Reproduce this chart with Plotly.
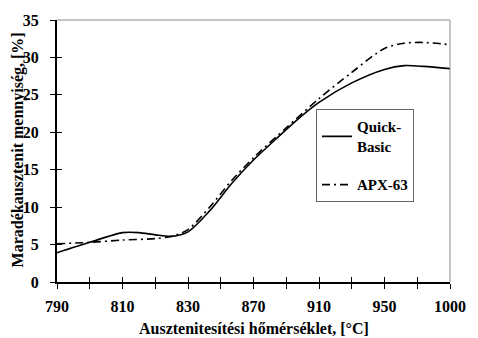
import plotly.graph_objects as go

# Austenitising temperatures shown as evenly spaced categories
temp_labels = ["790", "810", "830", "870", "910", "950", "1000"]
temp_pos = [0, 1, 2, 3, 4, 5, 6]
y_ticks = [0, 5, 10, 15, 20, 25, 30, 35]

# Retained austenite curves (x given as position along the temperature categories)
qb_x = [0, 0.5, 1.0, 1.25, 1.5, 1.75, 2.0, 2.33, 2.67, 3.0, 3.33, 3.67, 4.0, 4.5, 5.0, 5.3, 5.6, 6.0]
qb_y = [3.9, 5.3, 6.6, 6.6, 6.3, 6.1, 6.7, 9.5, 13.2, 16.3, 19.0, 21.7, 24.0, 26.6, 28.4, 28.9, 28.8, 28.5]

apx_x = [0, 0.5, 1.0, 1.5, 1.75, 2.0, 2.33, 2.67, 3.0, 3.5, 4.0, 4.5, 5.0, 5.3, 5.6, 6.0]
apx_y = [5.1, 5.3, 5.6, 5.8, 6.1, 7.0, 10.0, 13.6, 16.6, 20.6, 24.5, 28.0, 31.2, 31.9, 32.0, 31.7]

FONT = "Liberation Serif"


def bold(s):
    return f"<b>{s}</b>"


fig = go.Figure()
fig.add_trace(go.Scatter(
    x=qb_x, y=qb_y, mode="lines", name=bold("Quick-<br>Basic"), legendgroup="qb",
    line=dict(color="black", width=1.6, shape="spline", smoothing=0.8),
))
fig.add_trace(go.Scatter(
    x=apx_x, y=apx_y, mode="lines", name=bold("APX-63"), legendgroup="apx",
    line=dict(color="black", width=1.6, dash="8px,4px,2px,4px", shape="spline", smoothing=0.8),
))
# invisible trace carrying the inner tick axes
fig.add_trace(go.Scatter(x=[0], y=[0], xaxis="x2", yaxis="y2", mode="markers",
                         marker=dict(opacity=0), showlegend=False, hoverinfo="skip"))

tick_font = dict(family=FONT, size=16, color="black")

fig.update_layout(
    width=478, height=338,
    margin=dict(l=57, r=19, t=18, b=56),
    paper_bgcolor="white", plot_bgcolor="white",
    showlegend=True,
    legend=dict(
        x=0.659, y=0.659, xanchor="left", yanchor="top",
        bgcolor="white", bordercolor="#666666", borderwidth=1,
        font=dict(family=FONT, size=15, color="black"),
        itemwidth=30, tracegroupgap=16,
    ),
    xaxis=dict(
        range=[0, 6], tickvals=temp_pos, ticktext=[bold(t) for t in temp_labels],
        ticks="outside", ticklen=5, tickwidth=1.2, tickcolor="black",
        minor=dict(dtick=0.5, ticks="outside", ticklen=5, tickwidth=1.2, tickcolor="black"),
        showline=True, linecolor="black", linewidth=2, showgrid=False, zeroline=False,
        tickfont=tick_font, ticklabelstandoff=4,
    ),
    yaxis=dict(
        range=[0, 35], tickvals=y_ticks, ticktext=[bold(v) for v in y_ticks],
        ticks="outside", ticklen=5, tickwidth=1.2, tickcolor="black",
        showline=True, linecolor="black", linewidth=2, showgrid=False, zeroline=False,
        tickfont=tick_font, ticklabelstandoff=8,
    ),
    xaxis2=dict(
        overlaying="x", anchor="y2", range=[0, 6], tickvals=temp_pos,
        ticks="inside", ticklen=5, tickwidth=1.2, tickcolor="black",
        minor=dict(dtick=0.5, ticks="inside", ticklen=5, tickwidth=1.2, tickcolor="black"),
        showticklabels=False, showline=False, showgrid=False, zeroline=False,
    ),
    yaxis2=dict(
        overlaying="y", anchor="x2", range=[0, 35], tickvals=y_ticks,
        ticks="inside", ticklen=5, tickwidth=1.2, tickcolor="black",
        showticklabels=False, showline=False, showgrid=False, zeroline=False,
    ),
    shapes=[
        dict(type="line", xref="paper", yref="paper", x0=0, x1=1, y0=1, y1=1,
             line=dict(color="#8c8c8c", width=1)),
        dict(type="line", xref="paper", yref="paper", x0=1, x1=1, y0=0, y1=1,
             line=dict(color="#8c8c8c", width=1)),
    ],
    annotations=[
        dict(text=bold("Ausztenitesítési hőmérséklet, [°C]"), xref="paper", yref="paper",
             x=0.5, y=-0.178, xanchor="center", yanchor="middle", showarrow=False,
             font=dict(family=FONT, size=16, color="black")),
        dict(text=bold("Maradékausztenit mennyiség, [%]"), xref="paper", yref="paper",
             x=-0.1, y=0.505, xanchor="center", yanchor="middle", showarrow=False,
             textangle=-90,
             font=dict(family=FONT, size=16, color="black")),
    ],
)

fig.write_html("out.html")
